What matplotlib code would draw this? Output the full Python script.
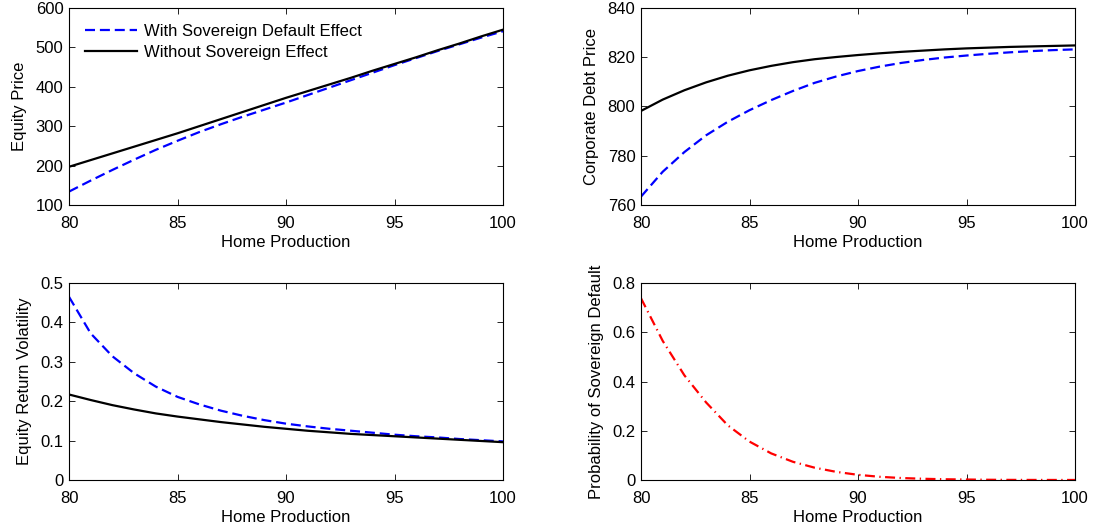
import matplotlib
matplotlib.use("Agg")
import matplotlib.pyplot as plt

plt.rcParams['font.family'] = ['Liberation Sans', 'DejaVu Sans']
plt.rcParams['font.size'] = 12

# Home production grid
home_production = [80, 81, 82, 83, 84, 85, 86, 87, 88, 89, 90,
                   91, 92, 93, 94, 95, 96, 97, 98, 99, 100]

# Equity price
equity_with = [134, 162, 189, 215, 240, 263, 285, 305, 324, 342, 360,
               379, 398, 417, 436, 455, 473, 491, 508, 525, 541]
equity_without = [197, 214, 231, 248, 265, 282, 300, 318, 336, 354, 372,
                  389, 406, 423, 441, 458, 475, 493, 510, 528, 545]

# Corporate debt price
debt_with = [763.4, 773.5, 781.5, 788.3, 793.8, 798.5, 802.6, 806.3, 809.6, 812.2, 814.4,
             816.2, 817.7, 818.9, 819.9, 820.7, 821.4, 822.0, 822.5, 822.9, 823.2]
debt_without = [798.2, 802.8, 806.6, 809.8, 812.5, 814.7, 816.5, 818.0, 819.2, 820.1, 820.9,
                821.6, 822.2, 822.7, 823.2, 823.6, 823.9, 824.2, 824.4, 824.6, 824.8]

# Equity return volatility
vol_with = [0.465, 0.372, 0.314, 0.271, 0.237, 0.211, 0.192, 0.176, 0.163, 0.152, 0.143,
            0.136, 0.130, 0.125, 0.120, 0.115, 0.111, 0.108, 0.104, 0.101, 0.098]
vol_without = [0.217, 0.203, 0.190, 0.179, 0.169, 0.161, 0.154, 0.147, 0.141, 0.135, 0.130,
               0.125, 0.121, 0.117, 0.114, 0.111, 0.108, 0.105, 0.102, 0.099, 0.096]

# Probability of sovereign default
prob_default = [0.738, 0.565, 0.425, 0.315, 0.222, 0.156, 0.108, 0.074, 0.050, 0.033, 0.021,
                0.013, 0.008, 0.005, 0.003, 0.002, 0.001, 0.0005, 0.0003, 0.0002, 0.0001]

x_ticks = [80, 85, 90, 95, 100]

W, H = 1098, 531
fig = plt.figure(figsize=(W / 100, H / 100), dpi=100)

def box(l, t, r, b):
    return [l / W, 1 - b / H, (r - l) / W, (b - t) / H]

ax1 = fig.add_axes(box(69, 8, 503, 205))
ax2 = fig.add_axes(box(641, 8, 1075, 205))
ax3 = fig.add_axes(box(69, 283, 503, 480))
ax4 = fig.add_axes(box(641, 283, 1075, 480))

dash = (4.5, 2.2)
dashdot = (4.5, 2.0, 0.6, 2.0)
lw = 1.6

ax1.plot(home_production, equity_with, color='#0000ff', lw=lw, dashes=dash,
         label='With Sovereign Default Effect')
ax1.plot(home_production, equity_without, color='black', lw=lw,
         label='Without Sovereign Effect')
ax1.set_ylim(100, 600)
ax1.set_yticks([100, 200, 300, 400, 500, 600])
ax1.set_ylabel('Equity Price')
ax1.legend(loc='upper left', frameon=False, handlelength=3.1,
           borderaxespad=0.65, labelspacing=0.37, handletextpad=0.45,
           borderpad=0.3)

ax2.plot(home_production, debt_with, color='#0000ff', lw=lw, dashes=dash)
ax2.plot(home_production, debt_without, color='black', lw=lw)
ax2.set_ylim(760, 840)
ax2.set_yticks([760, 780, 800, 820, 840])
ax2.set_ylabel('Corporate Debt Price')

ax3.plot(home_production, vol_with, color='#0000ff', lw=lw, dashes=dash)
ax3.plot(home_production, vol_without, color='black', lw=lw)
ax3.set_ylim(0, 0.5)
ax3.set_yticks([0, 0.1, 0.2, 0.3, 0.4, 0.5])
ax3.set_yticklabels(['0', '0.1', '0.2', '0.3', '0.4', '0.5'])
ax3.set_ylabel('Equity Return Volatility')

ax4.plot(home_production, prob_default, color='#ff0000', lw=lw, dashes=dashdot)
ax4.set_ylim(0, 0.8)
ax4.set_yticks([0, 0.2, 0.4, 0.6, 0.8])
ax4.set_yticklabels(['0', '0.2', '0.4', '0.6', '0.8'])
ax4.set_ylabel('Probability of Sovereign Default')

for ax in (ax1, ax2, ax3, ax4):
    ax.set_xlim(80, 100)
    ax.set_xticks(x_ticks)
    ax.set_xlabel('Home Production', labelpad=3)
    ax.yaxis.labelpad = 6
    ax.tick_params(direction='in', top=True, right=True, length=4,
                   width=0.6, labelsize=12)
    ax.tick_params(axis='x', pad=8)
    ax.tick_params(axis='y', pad=4)
    for s in ax.spines.values():
        s.set_linewidth(0.8)

fig.savefig('out.png', dpi=100)
